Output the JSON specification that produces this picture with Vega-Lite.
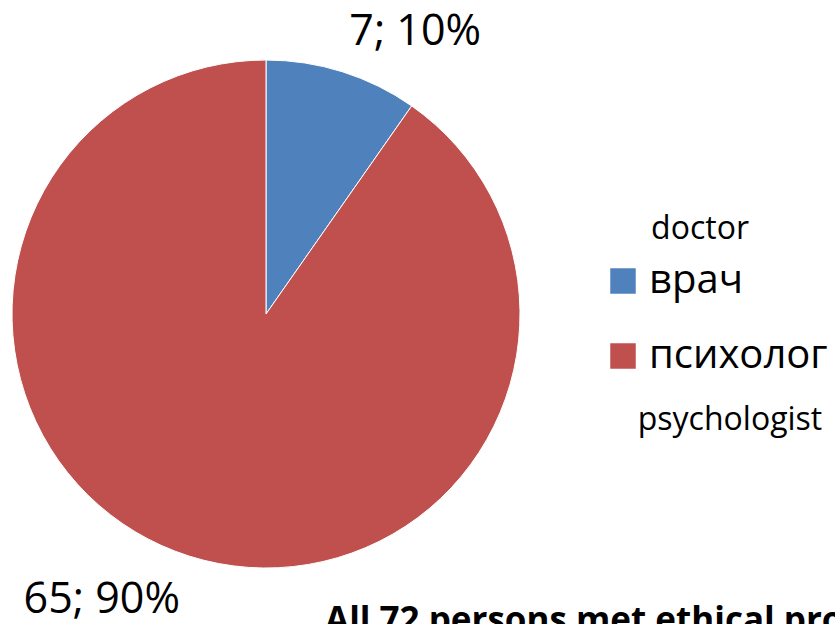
{
  "$schema": "https://vega.github.io/schema/vega-lite/v6.json",
  "width": 532,
  "height": 620,
  "autosize": {"type": "none"},
  "padding": {"left": 0, "top": 4, "right": 303, "bottom": 0},
  "background": "white",
  "view": {"stroke": null},
  "config": {"font": "Open Sans"},
  "data": {
    "values": [
      {"who": "врач", "n": 7, "label": "7; 10%", "rank": 1},
      {"who": "психолог", "n": 65, "label": "65; 90%", "rank": 2}
    ]
  },
  "layer": [
    {
      "mark": {"type": "arc", "outerRadius": 254, "stroke": "white", "strokeWidth": 1},
      "encoding": {
        "theta": {"field": "n", "type": "quantitative", "stack": true},
        "order": {"field": "rank", "type": "quantitative"},
        "color": {
          "field": "who",
          "type": "nominal",
          "scale": {"domain": ["врач", "психолог"], "range": ["#4F81BD", "#C0504D"]},
          "legend": {
            "orient": "none",
            "legendX": 603,
            "legendY": 257,
            "title": null,
            "symbolType": "square",
            "symbolSize": 650,
            "symbolStrokeWidth": 0,
            "labelFontSize": 40,
            "labelFont": "Open Sans",
            "labelColor": "black",
            "labelOffset": 6,
            "rowPadding": 35,
            "labelLimit": 300
          }
        }
      }
    },
    {
      "mark": {
        "type": "text",
        "radius": 300,
        "fontSize": 43,
        "font": "Open Sans",
        "color": "black",
        "baseline": "middle",
        "dx": {"expr": "datum.rank == 1 ? 59 : -74"},
        "dy": {"expr": "datum.rank == 1 ? 4 : 0"}
      },
      "encoding": {
        "theta": {"field": "n", "type": "quantitative", "stack": true},
        "order": {"field": "rank", "type": "quantitative"},
        "text": {"field": "label", "type": "nominal"}
      }
    },
    {
      "data": {"values": [{"note": "doctor"}]},
      "mark": {"type": "text", "x": 700, "y": 235, "align": "center", "baseline": "alphabetic", "fontSize": 32, "font": "Open Sans", "color": "black"},
      "encoding": {"text": {"field": "note", "type": "nominal"}}
    },
    {
      "data": {"values": [{"note": "psychologist"}]},
      "mark": {"type": "text", "x": 730, "y": 426, "align": "center", "baseline": "alphabetic", "fontSize": 32, "font": "Open Sans", "color": "black"},
      "encoding": {"text": {"field": "note", "type": "nominal"}}
    },
    {
      "data": {"values": [{"note": "All 72 persons met ethical problems"}]},
      "mark": {"type": "text", "x": 325, "y": 628, "align": "left", "baseline": "alphabetic", "fontSize": 35, "fontWeight": "bold", "font": "Open Sans", "color": "black"},
      "encoding": {"text": {"field": "note", "type": "nominal"}}
    }
  ]
}
